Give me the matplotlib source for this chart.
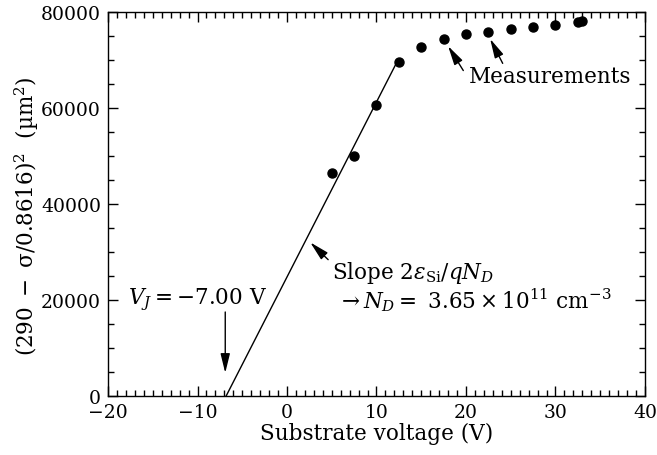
"""
Substrate-voltage plot: (290 - sigma/0.8616)^2 versus substrate voltage,
with the linear fit that gives the junction voltage and doping.
"""

import matplotlib
matplotlib.use("Agg")

import matplotlib.pyplot as plt
from matplotlib.ticker import MultipleLocator

# ---------------------------------------------------------------------------
# Data
# ---------------------------------------------------------------------------
volts = [5.0, 7.5, 10.0, 12.5, 15.0, 17.5, 20.0, 22.5, 25.0, 27.5, 30.0, 32.5, 33.0]
width_sq = [46500, 50000, 60600, 69600, 72700, 74400, 75400, 75800, 76500,
            76900, 77300, 77900, 78100]

fit_volts = [-6.8, 12.4]
fit_width_sq = [0, 70000]

plt.rcParams["font.family"] = ["DejaVu Serif"]
plt.rcParams["mathtext.fontset"] = "dejavuserif"
plt.rcParams["font.size"] = 13

fig = plt.figure(figsize=(6.57, 4.56), dpi=100)
ax = fig.add_axes([0.1644, 0.1294, 0.8173, 0.8421])

ax.plot(fit_volts, fit_width_sq, color="black", linewidth=1.0)
ax.plot(volts, width_sq, "o", color="black", markersize=6.5)

ax.set_xlim(-20, 40)
ax.set_ylim(0, 80000)
ax.xaxis.set_major_locator(MultipleLocator(10))
ax.xaxis.set_minor_locator(MultipleLocator(1))
ax.yaxis.set_major_locator(MultipleLocator(20000))
ax.yaxis.set_minor_locator(MultipleLocator(5000))
ax.tick_params(which="both", direction="in", top=True, right=True,
               labelsize=13.5, width=1.0, pad=5)
ax.tick_params(which="major", length=7)
ax.tick_params(which="minor", length=4)
for spine in ax.spines.values():
    spine.set_linewidth(1.0)

ax.set_xlabel("Substrate voltage (V)", fontsize=15.5, labelpad=1)
ax.set_ylabel(r"$(290\ -\ \mathrm{\sigma}/0.8616)^2$  (µm$^2$)", fontsize=15.5,
              labelpad=4)
ax.yaxis.set_label_coords(-0.125, 0.47)

arrow = dict(arrowstyle="-|>,head_length=0.9,head_width=0.22",
             color="black", linewidth=1.0, shrinkA=0, shrinkB=0)

# junction voltage
ax.text(-10, 20200, r"$V_J = -7.00$ V", ha="center", va="center", fontsize=15.5)
ax.annotate("", xy=(-6.9, 4800), xytext=(-6.9, 17500), arrowprops=arrow)

# slope
ax.annotate("", xy=(2.6, 32000), xytext=(4.6, 28400), arrowprops=arrow)
ax.text(5.0, 25800, r"Slope $2\varepsilon_{\rm Si}/qN_D$", ha="left",
        va="center", fontsize=15.5)
ax.text(5.6, 20200, r"$\rightarrow N_D =\ 3.65\times10^{11}\ {\rm cm}^{-3}$",
        ha="left", va="center", fontsize=15.5)

# measurements
ax.text(29.4, 66700, "Measurements", ha="center", va="center", fontsize=15.5)
ax.annotate("", xy=(18.0, 72900), xytext=(19.7, 67800), arrowprops=arrow)
ax.annotate("", xy=(22.7, 74400), xytext=(24.1, 69300), arrowprops=arrow)

fig.savefig("out.png", dpi=100)
